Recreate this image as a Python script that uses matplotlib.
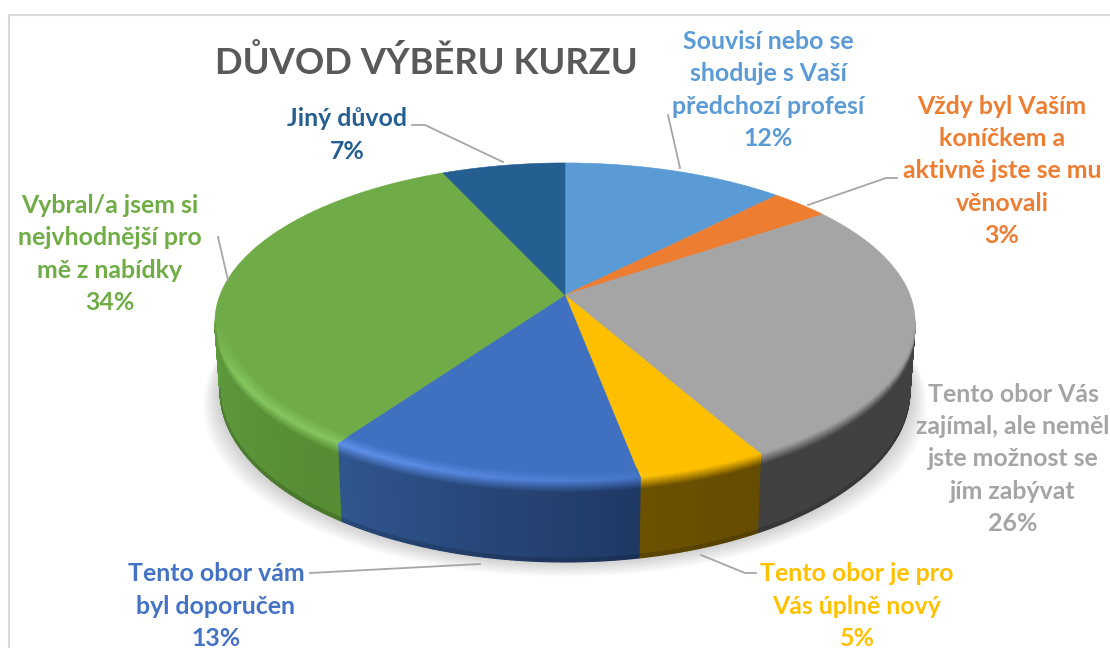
import matplotlib
matplotlib.use("Agg")
import matplotlib.pyplot as plt
import numpy as np
from matplotlib.collections import PolyCollection
from matplotlib.colors import to_rgb
from matplotlib.patches import Polygon

# shares as measured from the slice angles, printed percentages are separate
categories = [
    "Souvisí nebo se\nshoduje s Vaší\npředchozí profesí",
    "Vždy byl Vaším\nkoníčkem a\naktivně jste se mu\nvěnovali",
    "Tento obor Vás\nzajímal, ale neměl\njste možnost se\njím zabývat",
    "Tento obor je pro\nVás úplně nový",
    "Tento obor vám\nbyl doporučen",
    "Vybral/a jsem si\nnejvhodnější pro\nmě z nabídky",
    "Jiný důvod",
]
shares = [12.1, 3.2, 26.7, 5.1, 12.5, 33.7, 6.7]
printed = [12, 3, 26, 5, 13, 34, 7]

top_colors = ["#5b9bd5", "#ed7d31", "#a5a5a5", "#fdbf00", "#4070c0", "#6fac47", "#255e91"]
text_colors = ["#5b9bd5", "#ed7d31", "#a5a5a5", "#ffc000", "#4472c4", "#70ad47", "#255e91"]
side_left = ["#3a6d9c", "#a4561f", "#414141", "#6b5100", "#30568f", "#5f9a3e", "#1a4266"]
side_right = ["#3a6d9c", "#a4561f", "#414141", "#654c00", "#1f3864", "#568c33", "#1a4266"]
highlights = ["#7ab4e8", "#ff9a55", "#c8c8c8", "#ffd040", "#5f90ea", "#86c860", "#3a7ab0"]

label_xy = [(768, 90), (1002, 171), (1013, 459), (857, 606), (216, 606), (110, 254), (347, 135)]
leaders = [
    [(668, 115), (680, 168)],
    [(808, 205), (886, 178), (897, 178)],
    [(218, 237), (228, 280)],
    [(701, 555), (745, 573), (756, 573)],
    [(310, 573), (480, 564)],
    [(412, 125), (425, 125), (503, 162)],
]

CX, CY = 565, 295
RX, RY = 345, 154.5
P = 0.17
DEPTH = 67
BEVEL = 0.04


def project(theta, z=0.0):
    # z below zero walks inward on the top face, above zero down the wall
    r = 1 + np.minimum(z, 0) * BEVEL / 9
    u = r * np.sin(theta)
    v = r * np.cos(theta)
    w = 1 + P * v
    sx = 1 - 0.015 * max(z, 0) / DEPTH
    x = CX + RX * u / w * sx
    y = CY - RY * v / w + max(z, 0) / w
    return x, y


def mix(a, b, t):
    return tuple(a[i] * (1 - t) + b[i] * t for i in range(3))


fig = plt.figure(figsize=(11.1, 6.48), dpi=100)
ax = fig.add_axes([0, 0, 1, 1])
ax.set_xlim(0, 1110)
ax.set_ylim(648, 0)
ax.axis("off")

# frame of the pasted chart
ax.plot([1110, 9, 9], [15, 15, 648], color="#d9d9d9", lw=1.5)

# soft shadow under the pie
around = np.linspace(0, 2 * np.pi, 361)
sx = CX + RX * np.sin(around) / (1 + P * np.cos(around)) * 0.985
sy = CY - RY * np.cos(around) / (1 + P * np.cos(around)) + DEPTH / (1 + P * np.cos(around))
for grow in np.linspace(20, 1, 12):
    ax.add_patch(Polygon(np.c_[CX + (sx - CX) * (1 + grow / 400), sy + grow * 0.75],
                         fc="black", ec="none", alpha=0.016, zorder=1))

edges = np.radians(np.r_[0, np.cumsum(shares)] * 3.6)
tan_a = np.arccos(-P)
tan_b = 2 * np.pi - tan_a

# flat top of the slices
for i in range(len(shares)):
    t = np.linspace(edges[i], edges[i + 1], 150)
    x, y = project(t)
    ax.add_patch(Polygon(np.c_[np.r_[CX, x], np.r_[CY, y]], fc=top_colors[i],
                         ec=top_colors[i], lw=0.4, zorder=2))

# front wall with the bevel, small quads so the gradient can change along it
z_levels = np.r_[np.linspace(-9, 10, 24), np.linspace(11, DEPTH, 20)]
quads = []
quad_colors = []
for i in range(len(shares)):
    a = max(edges[i], tan_a)
    b = min(edges[i + 1], tan_b)
    if b <= a:
        continue
    n = max(int(np.degrees(b - a) * 2), 2)
    t = np.linspace(a, b, n + 1)
    top = to_rgb(top_colors[i])
    hi = to_rgb(highlights[i])
    left = to_rgb(side_left[i])
    right = to_rgb(side_right[i])
    for k in range(n):
        tm = (t[k] + t[k + 1]) / 2
        # the light comes from the left, so the highlight fades out to the right
        power = np.clip((0.25 - np.sin(tm)) / 0.75, 0, 1) ** 0.7
        # and it dies off before the tangent point so there is no step in the outline
        power = power * np.clip((tan_b - tm) / 0.35, 0, 1)
        # theta runs clockwise, so along the front it goes right to left
        wall = mix(right, left, (k + 0.5) / n)
        for j in range(len(z_levels) - 1):
            z0, z1 = z_levels[j], z_levels[j + 1]
            zm = (z0 + z1) / 2
            if zm < 0:
                c = mix(top, hi, power * (zm + 9) / 9)
            elif zm < 10:
                start = mix(top, hi, power)
                c = mix(start, wall, zm / 10)
            else:
                c = mix(wall, (0, 0, 0), 0.25 * np.clip((zm - DEPTH + 4) / 4, 0, 1))
            x0, y0 = project(t[k], z0)
            x1, y1 = project(t[k + 1], z0)
            x2, y2 = project(t[k + 1], z1)
            x3, y3 = project(t[k], z1)
            quads.append([(x0, y0), (x1, y1), (x2, y2), (x3, y3)])
            quad_colors.append(c)
ax.add_collection(PolyCollection(quads, facecolors=quad_colors, edgecolors=quad_colors,
                                 linewidths=0.9, zorder=3))

for pts in leaders:
    pts = np.array(pts)
    ax.plot(pts[:, 0], pts[:, 1], color="#a6a6a6", lw=1.3, zorder=4)

ax.text(426, 63, "DŮVOD VÝBĚRU KURZU", family="Lato", weight="bold", fontsize=26.2,
        color="#595959", ha="center", va="center")

for i in range(len(categories)):
    ax.text(label_xy[i][0], label_xy[i][1], categories[i] + "\n" + str(printed[i]) + "%",
            family="Lato", weight="bold", fontsize=17.9, color=text_colors[i],
            ha="center", va="center", multialignment="center", linespacing=1.48, zorder=5)

fig.savefig("out.png", dpi=100, facecolor="white")
